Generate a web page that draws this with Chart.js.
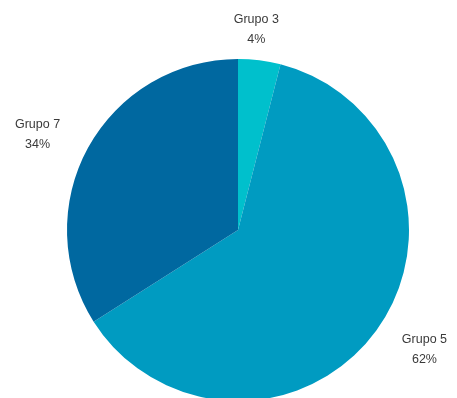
<!DOCTYPE html>
<html>
<head>
<meta charset="utf-8">
<script src="https://cdn.jsdelivr.net/npm/chart.js@4/dist/chart.umd.min.js"></script>
<style>
  html, body { margin: 0; padding: 0; background: #ffffff; }
  #wrap { width: 457px; height: 398px; overflow: hidden; }
</style>
</head>
<body>
<div id="wrap"><canvas id="c" width="457" height="398"></canvas></div>
<script>
// Share of each group
const categories = ['Grupo 3', 'Grupo 5', 'Grupo 7'];
const shares = [4, 62, 34];
const sliceColors = ['#00c0cc', '#009bc1', '#0068a0'];

const LABEL_FONT = '12.5px "Liberation Sans", Arial, sans-serif';
const LINE_H = 20;

// Outside labels: name on the first line, percentage below, centred
const outsideLabels = {
  id: 'outsideLabels',
  afterDatasetsDraw(chart) {
    const ctx = chart.ctx;
    const meta = chart.getDatasetMeta(0);
    const data = chart.data.datasets[0].data;
    const total = data.reduce((a, b) => a + b, 0);
    ctx.save();
    ctx.font = LABEL_FONT;
    ctx.fillStyle = '#3a3a3a';
    ctx.textAlign = 'center';
    ctx.textBaseline = 'middle';
    meta.data.forEach((arc, i) => {
      const p = arc.getProps(['x', 'y', 'startAngle', 'endAngle', 'outerRadius'], true);
      const mid = (p.startAngle + p.endAngle) / 2 - 2.5 * Math.PI / 180;
      const lines = [chart.data.labels[i], Math.round(data[i] / total * 100) + '%'];
      const w = Math.max(...lines.map(t => ctx.measureText(t).width));
      const h = LINE_H * lines.length;
      let bx = p.x + Math.cos(mid) * (p.outerRadius + 30 + w / 2);
      let by = p.y + Math.sin(mid) * (p.outerRadius + 25 + h / 2);
      // keep the block inside the canvas
      by = Math.max(by, 10 + h / 2);
      bx = Math.min(Math.max(bx, 6 + w / 2), chart.width - 6 - w / 2);
      lines.forEach((t, k) => {
        ctx.fillText(t, bx, by - h / 2 + LINE_H * (k + 0.5));
      });
    });
    ctx.restore();
  }
};

new Chart(document.getElementById('c'), {
  type: 'pie',
  data: {
    labels: categories,
    datasets: [{
      data: shares,
      backgroundColor: sliceColors,
      borderWidth: 0
    }]
  },
  options: {
    responsive: false,
    animation: false,
    radius: 171,
    layout: { padding: { left: 19, right: 0, top: 62, bottom: 0 } },
    plugins: {
      legend: { display: false },
      tooltip: { enabled: false }
    }
  },
  plugins: [outsideLabels]
});
</script>
</body>
</html>
